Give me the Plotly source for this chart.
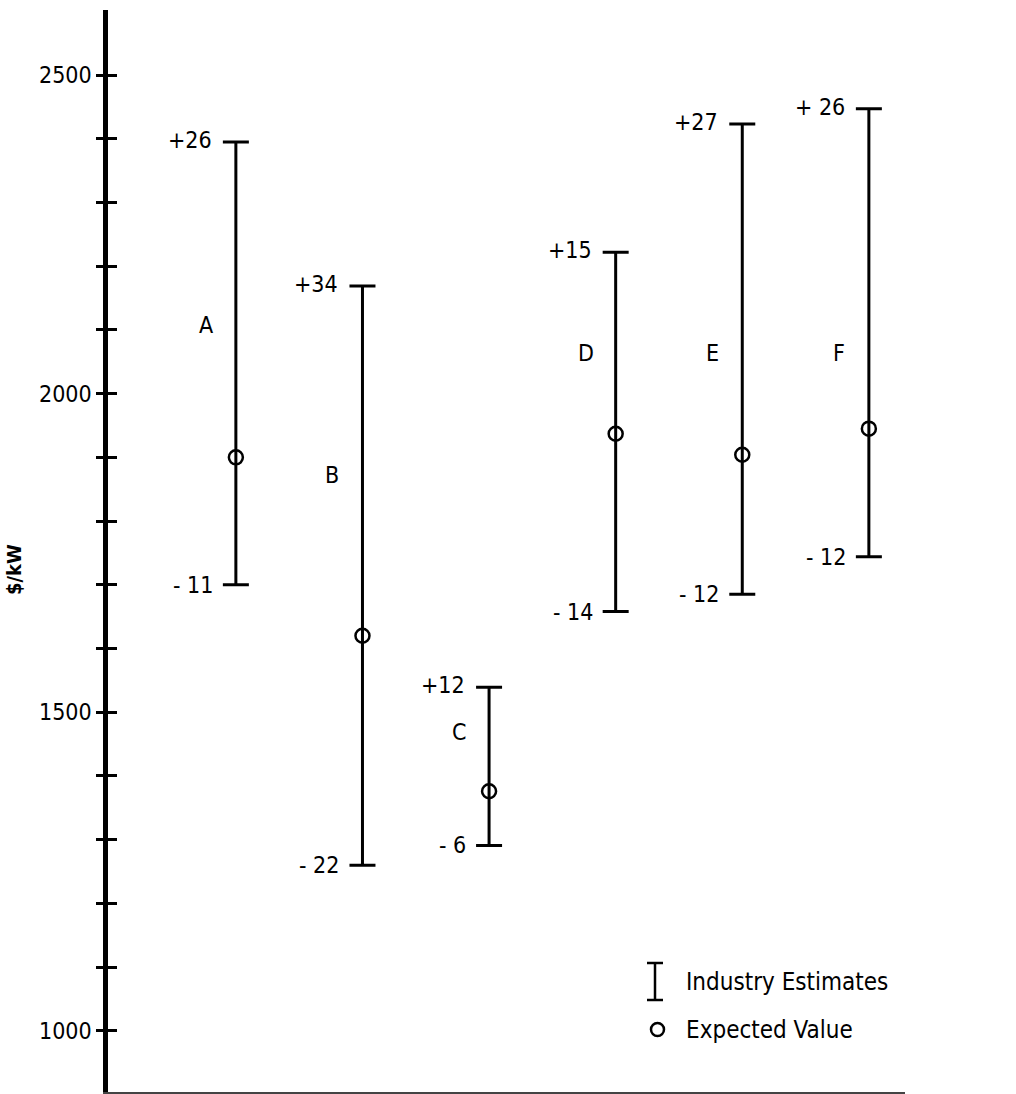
import plotly.graph_objects as go

# ---- data ----
categories = ["A", "B", "C", "D", "E", "F"]
expected = [1900, 1620, 1376, 1937, 1904, 1945]
high = [2395, 2169, 1539, 2222, 2423, 2447]
low = [1700, 1260, 1291, 1658, 1685, 1744]
plus_labels = ["+26", "+34", "+12", "+15", "+27", "+ 26"]
minus_labels = ["- 11", "- 22", "- 6", "- 14", "- 12", "- 12"]
y_tick_vals = list(range(1000, 2600, 100))
y_tick_labels = ["1000", "", "", "", "", "1500", "", "", "", "", "2000", "", "", "", "", "2500"]

# ---- layout constants (pixels) ----
W, H = 1016, 1094
L, R, T, B = 108, 905, 10, 1092
letter_y = [2107, 1873, 1469, 2063, 2063, 2063]  # label anchor heights
FONT = "DejaVu Sans Condensed, Liberation Sans Narrow, sans-serif"

xpos = list(range(1, len(categories) + 1))
err_plus = [h - e for h, e in zip(high, expected)]
err_minus = [e - l for e, l in zip(expected, low)]

fig = go.Figure()
fig.add_trace(go.Scatter(
    x=xpos, y=expected, mode="markers",
    marker=dict(symbol="circle-open", size=14, color="black", line=dict(width=2.5, color="black")),
    error_y=dict(type="data", symmetric=False, array=err_plus, arrayminus=err_minus,
                 color="black", thickness=3, width=13),
    showlegend=False, hoverinfo="skip",
))

ann = []
for i, c in enumerate(categories):
    ann.append(dict(x=xpos[i], y=high[i], text=plus_labels[i], showarrow=False,
                    xanchor="right", yanchor="middle", xshift=-22, yshift=2,
                    font=dict(family=FONT, size=23, color="black")))
    ann.append(dict(x=xpos[i], y=low[i], text=minus_labels[i], showarrow=False,
                    xanchor="right", yanchor="middle", xshift=-21, yshift=0,
                    font=dict(family=FONT, size=23, color="black")))
    ann.append(dict(x=xpos[i], y=letter_y[i], text=c, showarrow=False,
                    xanchor="center", yanchor="middle", xshift=-30,
                    font=dict(family=FONT, size=23, color="black")))

def px(x):
    return (x - L) / (R - L)

def py(y):
    return (B - y) / (B - T)

# y title
ann.append(dict(xref="paper", yref="paper", x=px(14), y=py(570), text="<b>$/kW</b>", textangle=-90,
                showarrow=False, xanchor="center", yanchor="middle",
                font=dict(family=FONT, size=20, color="black")))
# legend texts
ann.append(dict(xref="paper", yref="paper", x=px(684), y=py(982), text="Industry Estimates",
                showarrow=False, xanchor="left", yanchor="middle",
                font=dict(family=FONT, size=24, color="black")))
ann.append(dict(xref="paper", yref="paper", x=px(684), y=py(1030), text="Expected Value",
                showarrow=False, xanchor="left", yanchor="middle",
                font=dict(family=FONT, size=24, color="black")))

shapes = [
    # legend I-bar
    dict(type="line", xref="paper", yref="paper", x0=px(655), x1=px(655), y0=py(963), y1=py(1000),
         line=dict(color="black", width=2.5)),
    dict(type="line", xref="paper", yref="paper", x0=px(647), x1=px(663), y0=py(963), y1=py(963),
         line=dict(color="black", width=2.5)),
    dict(type="line", xref="paper", yref="paper", x0=px(647), x1=px(663), y0=py(1000), y1=py(1000),
         line=dict(color="black", width=2.5)),
    # legend circle
    dict(type="circle", xref="paper", yref="paper", x0=px(651), x1=px(664), y0=py(1023), y1=py(1036),
         line=dict(color="black", width=2.5)),
]

fig.update_layout(
    width=W, height=H,
    margin=dict(l=L, r=W - R, t=T, b=H - B),
    paper_bgcolor="white", plot_bgcolor="white",
    annotations=ann, shapes=shapes,
    xaxis=dict(range=[-0.01, (R - L) / 126.6 - 0.01], showgrid=False, zeroline=False,
               showticklabels=False, ticks="", showline=True, linecolor="#444", linewidth=1.5),
    yaxis=dict(range=[904, 2602], tickvals=y_tick_vals, ticktext=y_tick_labels,
               ticks="outside", ticklen=7, tickwidth=2.5, tickcolor="black",
               showline=True, linecolor="black", linewidth=4.5, showgrid=False, zeroline=False,
               tickfont=dict(family=FONT, size=23, color="black"), ticklabelstandoff=0),
    yaxis2=dict(range=[904, 2602], overlaying="y", tickvals=y_tick_vals, showticklabels=False,
                ticks="inside", ticklen=9, tickwidth=2.5, tickcolor="black",
                showline=False, showgrid=False, zeroline=False, side="left"),
    showlegend=False,
)
fig.add_trace(go.Scatter(x=[None], y=[None], yaxis="y2", showlegend=False, hoverinfo="skip"))

fig.write_html("out.html", config={"displayModeBar": False},
               post_script="document.body.style.margin='0px';document.body.style.overflow='hidden';")
